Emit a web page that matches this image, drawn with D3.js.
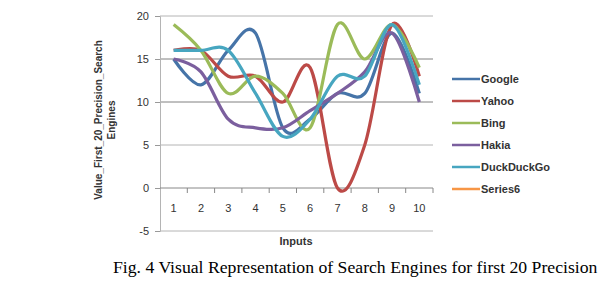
<!DOCTYPE html>
<html>
<head>
<meta charset="utf-8">
<script src="https://cdn.jsdelivr.net/npm/d3@7"></script>
<style>
  body { margin: 0; background: #fff; }
  svg { display: block; }
</style>
</head>
<body>
<svg id="chart" width="612" height="286"></svg>
<script>
// values
var inputs = [1, 2, 3, 4, 5, 6, 7, 8, 9, 10]
var google     = [15, 12, 16, 18, 7, 8, 11, 11, 18, 11]
var yahoo      = [16, 16, 13, 13, 10, 14, 0, 5, 19, 13]
var bing       = [19, 16, 11, 13, 11, 7, 19, 15, 19, 14]
var hakia      = [15, 13.5, 8, 7, 7, 9, 11, 13.5, 18, 10]
var duckduckgo = [16, 16, 16, 11, 6, 8, 13, 13, 19, 12]
var seriesNames = ['Google', 'Yahoo', 'Bing', 'Hakia', 'DuckDuckGo', 'Series6']
var seriesValues = [google, yahoo, bing, hakia, duckduckgo, []]
var yTicks = [-5, 0, 5, 10, 15, 20]

var colors = ['#4674a8', '#bc4a47', '#9bbb59', '#7b5f9e', '#47a6c0', '#f79646']

var svg = d3.select('#chart')
var font = 'Liberation Sans, Arial, sans-serif'

var x = d3.scaleBand().domain(inputs).range([160, 433])
var y = d3.scaleLinear().domain([-5, 20]).range([231, 16])
var cx = d => x(d) + x.bandwidth() / 2

// gridlines (the middle ones print darker in the source)
svg.append('g').selectAll('line')
  .data(yTicks.filter(d => d != 0))
  .join('line')
  .attr('x1', 160).attr('x2', 433)
  .attr('y1', d => y(d)).attr('y2', d => y(d))
  .attr('stroke', d => (d == 10 || d == 15) ? '#808080' : '#b4b4b4')
  .attr('stroke-width', 1)

// value axis
var yAxis = svg.append('g')
  .attr('transform', 'translate(160,0)')
  .call(d3.axisLeft(y).tickValues(yTicks).tickSize(5).tickPadding(6).tickFormat(d => String(d)))
yAxis.select('.domain').attr('stroke', '#b4b4b4')
yAxis.selectAll('.tick line').attr('stroke', '#999')
yAxis.selectAll('text')
  .attr('font-family', font).attr('font-size', 11).attr('fill', '#333')

// category axis crossing at 0
svg.append('line')
  .attr('x1', 160).attr('x2', 433)
  .attr('y1', y(0)).attr('y2', y(0))
  .attr('stroke', '#888')
svg.append('g').selectAll('line')
  .data(inputs.slice(1).concat(['end']))
  .join('line')
  .attr('x1', d => d == 'end' ? 433 : x(d))
  .attr('x2', d => d == 'end' ? 433 : x(d))
  .attr('y1', y(0)).attr('y2', y(0) + 5)
  .attr('stroke', '#888')
svg.append('g').selectAll('text')
  .data(inputs)
  .join('text')
  .attr('x', d => cx(d))
  .attr('y', y(0) + 24)
  .attr('text-anchor', 'middle')
  .attr('font-family', font).attr('font-size', 11).attr('fill', '#333')
  .text(d => d)

// series
var line = d3.line()
  .x((d, i) => cx(inputs[i]))
  .y(d => y(d))
  .curve(d3.curveCardinal.tension(0))

svg.append('g').selectAll('path')
  .data(seriesValues.filter(v => v.length))
  .join('path')
  .attr('d', line)
  .attr('fill', 'none')
  .attr('stroke', (d, i) => colors[i])
  .attr('stroke-width', 3.2)
  .attr('stroke-linejoin', 'round')

// axis titles
svg.append('text')
  .attr('x', 296).attr('y', 245)
  .attr('text-anchor', 'middle')
  .attr('font-family', font).attr('font-size', 11).attr('font-weight', 'bold')
  .attr('fill', '#333')
  .text('Inputs')

var yTitle = svg.append('text')
  .attr('transform', 'translate(102,120) rotate(-90)')
  .attr('text-anchor', 'middle')
  .attr('font-family', font).attr('font-size', 10).attr('font-weight', 'bold')
  .attr('fill', '#333')
yTitle.append('tspan').attr('x', 0).attr('dy', 0).text('Value_First_20_Precision_Search')
yTitle.append('tspan').attr('x', 0).attr('dy', 13).text('Engines')

// legend
var legend = svg.append('g').selectAll('g')
  .data(seriesNames)
  .join('g')
  .attr('transform', (d, i) => 'translate(452,' + (79 + i * 22) + ')')
legend.append('line')
  .attr('x1', 0).attr('x2', 28)
  .attr('stroke', (d, i) => colors[i])
  .attr('stroke-width', 2.5)
legend.append('text')
  .attr('x', 29).attr('dy', '0.35em')
  .attr('font-family', font).attr('font-size', 11).attr('font-weight', 'bold')
  .attr('fill', '#333')
  .text(d => d)

// caption
svg.append('text')
  .attr('x', 113).attr('y', 273)
  .attr('font-family', 'Liberation Serif, Times New Roman, serif')
  .attr('font-size', 17.7)
  .attr('fill', '#000')
  .text('Fig. 4 Visual Representation of Search Engines for first 20 Precision')
</script>
</body>
</html>
